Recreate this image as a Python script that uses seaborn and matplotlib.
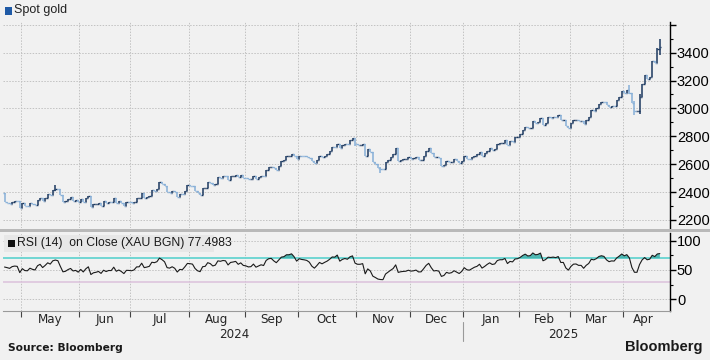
import numpy as np
import pandas as pd
import matplotlib
matplotlib.use("Agg")
import matplotlib.pyplot as plt
import seaborn as sns
from matplotlib.patches import Rectangle
from matplotlib.lines import Line2D

# ---------------- data (spot gold daily closes, USD/oz) ----------------
warmup_closes = [2160, 2157, 2186, 2181, 2165, 2172, 2178, 2194, 2230, 2250, 2280, 2300,
                 2290, 2329, 2339, 2352, 2333, 2372, 2344, 2383, 2383, 2361, 2379, 2392]
closes_2024_04 = [2327, 2322, 2316, 2332, 2337, 2335, 2286]
closes_2024_05 = [2320, 2303, 2301, 2323, 2314, 2309, 2346, 2360, 2336, 2357, 2385, 2376,
                  2415, 2425, 2421, 2379, 2329, 2334, 2350, 2361, 2338, 2343, 2327]
closes_2024_06 = [2350, 2327, 2355, 2375, 2294, 2311, 2316, 2324, 2303, 2333, 2319, 2329,
                  2328, 2360, 2322, 2334, 2319, 2298, 2327, 2326]
closes_2024_07 = [2323, 2330, 2356, 2357, 2392, 2359, 2364, 2371, 2414, 2411, 2422, 2469,
                  2459, 2445, 2400, 2396, 2409, 2397, 2364, 2387, 2384, 2411, 2448]
closes_2024_08 = [2446, 2443, 2410, 2390, 2382, 2427, 2431, 2472, 2465, 2447, 2456, 2507,
                  2504, 2514, 2512, 2484, 2512, 2517, 2524, 2505, 2520, 2503]
closes_2024_09 = [2500, 2493, 2495, 2516, 2497, 2506, 2516, 2512, 2558, 2578, 2582, 2569,
                  2559, 2587, 2622, 2628, 2657, 2657, 2672, 2658, 2634]
closes_2024_10 = [2662, 2658, 2656, 2653, 2644, 2622, 2610, 2630, 2657, 2649, 2662, 2674,
                  2693, 2721, 2720, 2748, 2715, 2736, 2747, 2743, 2774, 2788, 2744]
closes_2024_11 = [2736, 2736, 2742, 2659, 2706, 2685, 2619, 2598, 2573, 2565, 2563, 2612,
                  2631, 2651, 2670, 2716, 2625, 2633, 2637, 2639, 2650]
closes_2024_12 = [2640, 2643, 2650, 2632, 2633, 2660, 2694, 2718, 2681, 2648, 2652, 2646,
                  2586, 2594, 2622, 2612, 2617, 2634, 2621, 2607, 2624]
closes_2025_01 = [2658, 2640, 2636, 2649, 2662, 2670, 2690, 2662, 2677, 2697, 2714, 2703,
                  2708, 2745, 2755, 2755, 2770, 2740, 2763, 2760, 2794, 2798]
closes_2025_02 = [2815, 2843, 2866, 2856, 2861, 2908, 2898, 2904, 2928, 2882, 2898, 2935,
                  2933, 2939, 2936, 2951, 2915, 2916, 2876, 2858]
closes_2025_03 = [2893, 2918, 2920, 2910, 2910, 2889, 2916, 2935, 2988, 2984, 3001, 3035,
                  3048, 3044, 3023, 3011, 3020, 3019, 3057, 3085, 3124]
closes_2025_04 = [3113, 3134, 3114, 3037, 2982, 2982, 3083, 3175, 3237, 3211, 3225, 3343,
                  3327, 3424, 3440]

holidays = ["2024-12-25", "2025-01-01", "2025-04-18"]

# notable intraday extremes
wick_dates = ["2024-05-20", "2024-10-31", "2024-11-14", "2025-04-03", "2025-04-07",
              "2025-04-09", "2025-04-21", "2025-04-22"]
wick_highs = [2450, 2790, 2580, 3167, 3055, 3100, 3430, 3500]
wick_lows = [2410, 2730, 2537, 3100, 2956, 2957, 3330, 3385]

price_ticks = [2200, 2400, 2600, 2800, 3000, 3200, 3400]
rsi_ticks = [0, 50, 100]
month_labels = ["May", "Jun", "Jul", "Aug", "Sep", "Oct", "Nov", "Dec",
                "Jan", "Feb", "Mar", "Apr"]
year_labels = ["2024", "2025"]
legend_price = "Spot gold"
legend_rsi = "RSI (14)  on Close (XAU BGN) 77.4983"

# ---------------- assemble ----------------
closes = np.array(closes_2024_04 + closes_2024_05 + closes_2024_06 + closes_2024_07 +
                  closes_2024_08 + closes_2024_09 + closes_2024_10 + closes_2024_11 +
                  closes_2024_12 + closes_2025_01 + closes_2025_02 + closes_2025_03 +
                  closes_2025_04, dtype=float)
dates = pd.bdate_range("2024-04-22", "2025-04-22")
dates = dates[~dates.isin(pd.to_datetime(holidays))]
assert len(dates) == len(closes)
N = len(closes)
x = np.arange(N)
opens = np.r_[warmup_closes[-1], closes[:-1]]
highs = np.maximum(opens, closes)
lows = np.minimum(opens, closes)
for d, h, l in zip(wick_dates, wick_highs, wick_lows):
    i = int(np.where(dates == pd.Timestamp(d))[0][0])
    highs[i] = max(highs[i], h)
    lows[i] = min(lows[i], l)

allc = pd.Series(list(warmup_closes) + list(closes))
delta = allc.diff()
gain = delta.clip(lower=0).ewm(alpha=1 / 14, adjust=False).mean()
loss = (-delta.clip(upper=0)).ewm(alpha=1 / 14, adjust=False).mean()
rsi = (100 - 100 / (1 + gain / loss)).to_numpy()[-N:]
df_rsi = pd.DataFrame({"x": x, "rsi": rsi})

month_id = dates.year * 12 + dates.month
month_starts = [i for i in range(1, N) if month_id[i] != month_id[i - 1]]
jan_idx = [i for i in month_starts if dates[i].month == 1][0]

# ---------------- style ----------------
sns.set_theme(style="white")
BG = "#f1f1f1"
plt.rcParams["font.family"] = ["Liberation Sans", "DejaVu Sans"]
plt.rcParams["figure.facecolor"] = BG
plt.rcParams["axes.facecolor"] = BG
NARROW = dict(family=["DejaVu Sans"], stretch="condensed")

fig = plt.figure(figsize=(7.1, 3.6), dpi=100)
W, H = 710, 360
def fx(px): return px / W
def fy(py): return 1 - py / H

ax1 = fig.add_axes([fx(3), fy(228), fx(670) - fx(3), fy(22) - fy(228)])
ax2 = fig.add_axes([fx(3), fy(311), fx(670) - fx(3), fy(233) - fy(311)], sharex=ax1)

GRID = "#c2c2c2"
for ax in (ax1, ax2):
    ax.set_facecolor(BG)
    for s in ("left", "top"):
        ax.spines[s].set_visible(False)
    ax.spines["right"].set_color("black")
    ax.spines["right"].set_linewidth(1.0)
    ax.yaxis.tick_right()
    for ms in month_starts:
        ax.axvline(ms - 0.5, color=GRID, lw=0.7, ls=(0, (1.5, 1.5)), zorder=0)
ax1.spines["bottom"].set_visible(False)
ax2.spines["bottom"].set_color("#9a9a9a")
ax2.spines["bottom"].set_linewidth(0.8)

# ---------------- price OHLC ----------------
up = closes >= opens
dark, light = "#1b3960", "#86afd8"
for mask, col in ((up, dark), (~up, light)):
    ax1.vlines(x[mask], lows[mask], highs[mask], color=col, lw=1.1, zorder=3)
    ax1.hlines(opens[mask], x[mask] - 0.5, x[mask], color=col, lw=1.0, zorder=3)
    ax1.hlines(closes[mask], x[mask], x[mask] + 0.5, color=col, lw=1.0, zorder=3)

for t in [2200, 2400, 2600, 2800, 3000, 3200, 3400, 3600]:
    ax1.axhline(t, color=GRID, lw=0.7, ls=(0, (1.5, 1.5)), zorder=0)
ax1.set_ylim(2142, 3620)
ax1.set_yticks(price_ticks + [3600])
ax1.set_yticklabels([str(t) for t in price_ticks] + [""])
ax1.set_yticks(np.arange(2200, 3601, 100), minor=True)
ax1.tick_params(axis="y", which="major", direction="out", length=4, width=1,
                colors="black", labelsize=10.5, pad=1, right=True)
ax1.tick_params(axis="y", which="minor", direction="out", length=2, width=0.8,
                color="black", right=True)
ax1.tick_params(axis="x", which="both", bottom=False, labelbottom=False)
ax1.set_xlim(-0.6, 262)
ax1.set_xlabel("")
ax1.set_ylabel("")

# legend for price
fig.patches.append(Rectangle((fx(5), fy(14.5)), fx(7), 7 / H, transform=fig.transFigure,
                             facecolor="#1f5aa6", edgecolor="none"))
fig.text(fx(14), fy(10.5), legend_price, fontsize=9, va="center", ha="left",
         color="#222222", family=["Liberation Sans", "DejaVu Sans"])

# ---------------- RSI ----------------
ax2.axhline(70, color="#66d4d0", lw=1.3, zorder=2)
ax2.axhline(30, color="#dcc2dc", lw=1.1, zorder=2)
for t in rsi_ticks:
    ax2.axhline(t, color=GRID, lw=0.7, ls=(0, (1.5, 1.5)), zorder=0)
ax2.fill_between(x, 70, rsi, where=rsi >= 70, interpolate=True, color="#3fb2ad",
                 alpha=0.9, lw=0, zorder=2)
sns.lineplot(data=df_rsi, x="x", y="rsi", ax=ax2, color="#1a1a1a", lw=0.8, zorder=3)
ax2.set_ylim(-20, 113)
ax2.set_yticks(rsi_ticks)
ax2.set_yticklabels([str(t) for t in rsi_ticks])
ax2.set_yticks([25, 75], minor=True)
ax2.tick_params(axis="y", which="major", direction="out", length=4, width=1,
                colors="black", labelsize=10.5, pad=1, right=True)
ax2.tick_params(axis="y", which="minor", direction="out", length=2, width=0.8,
                color="black", right=True)
ax2.set_ylabel("")
ax2.set_xlabel("")

# RSI legend: background box, black square, text
fig.patches.append(Rectangle((fx(4), fy(252)), fx(214) - fx(4), 17 / H,
                             transform=fig.transFigure, facecolor="#e7e7e7",
                             edgecolor="none", zorder=4))
fig.patches.append(Rectangle((fx(8), fy(247)), fx(7), 7 / H, transform=fig.transFigure,
                             facecolor="#111111", edgecolor="none", zorder=5))
fig.text(fx(17), fy(243), legend_rsi, fontsize=8.8, va="center", ha="left",
         color="#1a1a1a", family=["Liberation Sans", "DejaVu Sans"], zorder=6)

# x axis: month ticks at month starts, labels centred in each month
ax2.set_xticks([m - 0.5 for m in month_starts])
ax2.set_xticklabels([""] * len(month_starts))
bounds = month_starts + [N - 1 + 2]
mids = [(bounds[i] + bounds[i + 1]) / 2 - 0.5 for i in range(len(month_starts))]
ax2.set_xticks(mids, minor=True)
ax2.set_xticklabels(month_labels, minor=True, fontsize=9.5, **NARROW)
ax2.tick_params(axis="x", which="major", direction="out", length=4, width=0.8,
                color="#444444", bottom=True)
ax2.tick_params(axis="x", which="minor", length=0, pad=1.5, bottom=True)
ax2.set_xlim(-0.6, 262)

# year labels
ytrans = ax2.get_xaxis_transform()
ax2.text((0 + jan_idx) / 2, -0.30, year_labels[0], transform=ytrans, ha="center",
         va="center", fontsize=9.5, **NARROW)
ax2.text((jan_idx + N) / 2, -0.30, year_labels[1], transform=ytrans, ha="center",
         va="center", fontsize=9.5, **NARROW)
ax2.add_line(Line2D([jan_idx - 0.5, jan_idx - 0.5], [-0.14, -0.38], transform=ytrans,
                    color="#9a9a9a", lw=0.8, clip_on=False))

# separator between the panels
fig.patches.append(Rectangle((0, fy(232)), 1, 3.5 / H, transform=fig.transFigure,
                             facecolor="#b9b9b9", edgecolor="none"))
fig.patches.append(Rectangle((0, fy(230.5)), 1, 0.8 / H, transform=fig.transFigure,
                             facecolor="#dedede", edgecolor="none"))

# footer
fig.text(fx(8), fy(348), "Source: Bloomberg", fontsize=7.7, fontweight="bold",
         family=["DejaVu Sans"], ha="left", va="center", color="#1a1a1a")
fig.text(fx(703), fy(347), "Bloomberg", fontsize=10.5, fontweight="bold",
         family=["Liberation Sans", "DejaVu Sans"], ha="right", va="center", color="#1a1a1a")

fig.savefig("out.png", dpi=100, facecolor=BG)
